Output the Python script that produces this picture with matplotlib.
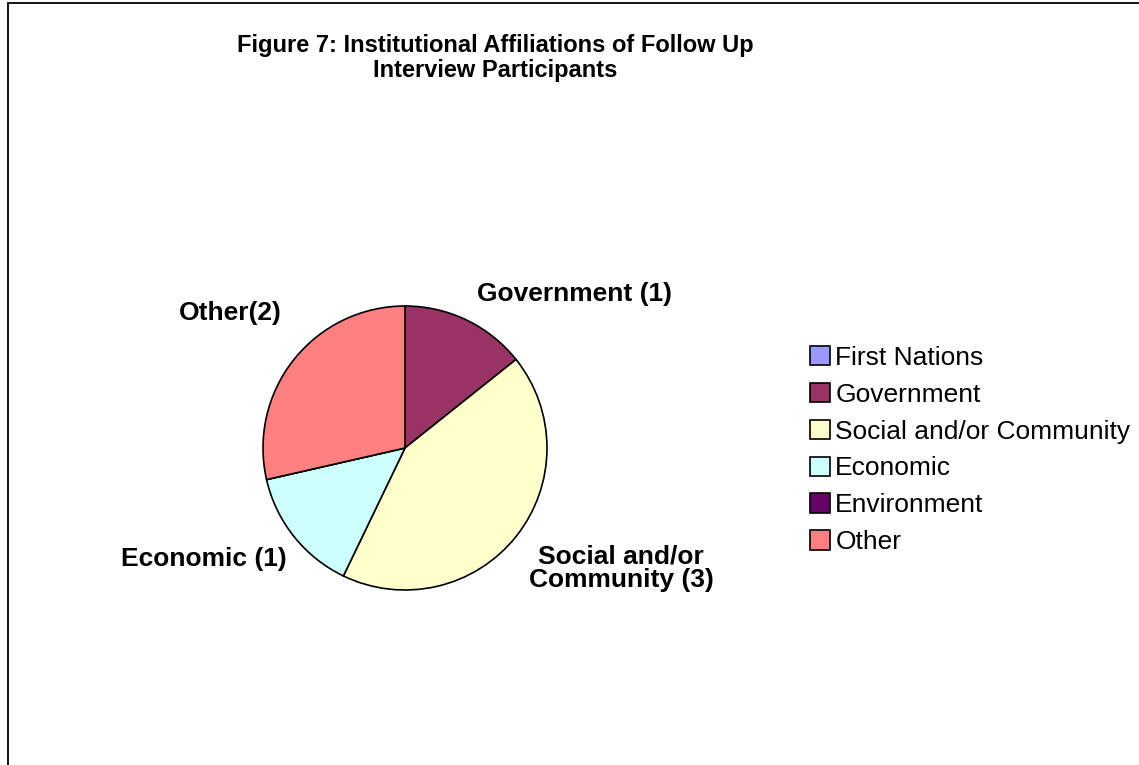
import matplotlib
matplotlib.use('Agg')
import matplotlib.pyplot as plt
from matplotlib.patches import Rectangle

# data
categories = ['First Nations', 'Government', 'Social and/or Community',
              'Economic', 'Environment', 'Other']
counts = [0, 1, 3, 1, 0, 2]
colors = ['#9999FF', '#993366', '#FFFFCC', '#CCFFFF', '#660066', '#FF8080']
slice_labels = ['', 'Government (1)', 'Social and/or\nCommunity (3)',
                'Economic (1)', '', 'Other(2)']

plt.rcParams['font.family'] = ['Liberation Sans', 'DejaVu Sans']

W, H = 1139, 765
fig = plt.figure(figsize=(W / 100, H / 100), dpi=100)

# frame round the chart area
fig.add_artist(Rectangle((8 / W, -0.1), 1.2, 1 - 3 / H + 0.1, fill=False,
                         edgecolor='black', linewidth=1.3,
                         transform=fig.transFigure))

fig.text(495 / W, 1 - 58 / H,
         'Figure 7: Institutional Affiliations of Follow Up\nInterview Participants',
         ha='center', va='center', fontsize=17, fontweight='bold', linespacing=1.15)

cx, cy, r = 405, 448, 142
ax = fig.add_axes([(cx - r) / W, 1 - (cy + r) / H, 2 * r / W, 2 * r / H])
wedges, _ = ax.pie(counts, colors=colors, startangle=90, counterclock=False,
                   wedgeprops=dict(edgecolor='black', linewidth=1.2))
ax.set_xlim(-1, 1)
ax.set_ylim(-1, 1)

# slice labels
label_pos = [None, (574, 294), (621, 568), (204, 559), None, (230, 313)]
for lab, pos in zip(slice_labels, label_pos):
    if pos is None:
        continue
    fig.text(pos[0] / W, 1 - pos[1] / H, lab, ha='center', va='center',
             fontsize=19, fontweight='bold', linespacing=0.95)

fig.legend(wedges, categories, loc='center left',
           bbox_to_anchor=(810 / W, 1 - 450 / H), frameon=False,
           fontsize=19, handlelength=0.76, handleheight=0.76,
           handletextpad=0.2, labelspacing=0.49, borderpad=0, borderaxespad=0)

fig.savefig('out.png', dpi=100)
plt.close()
